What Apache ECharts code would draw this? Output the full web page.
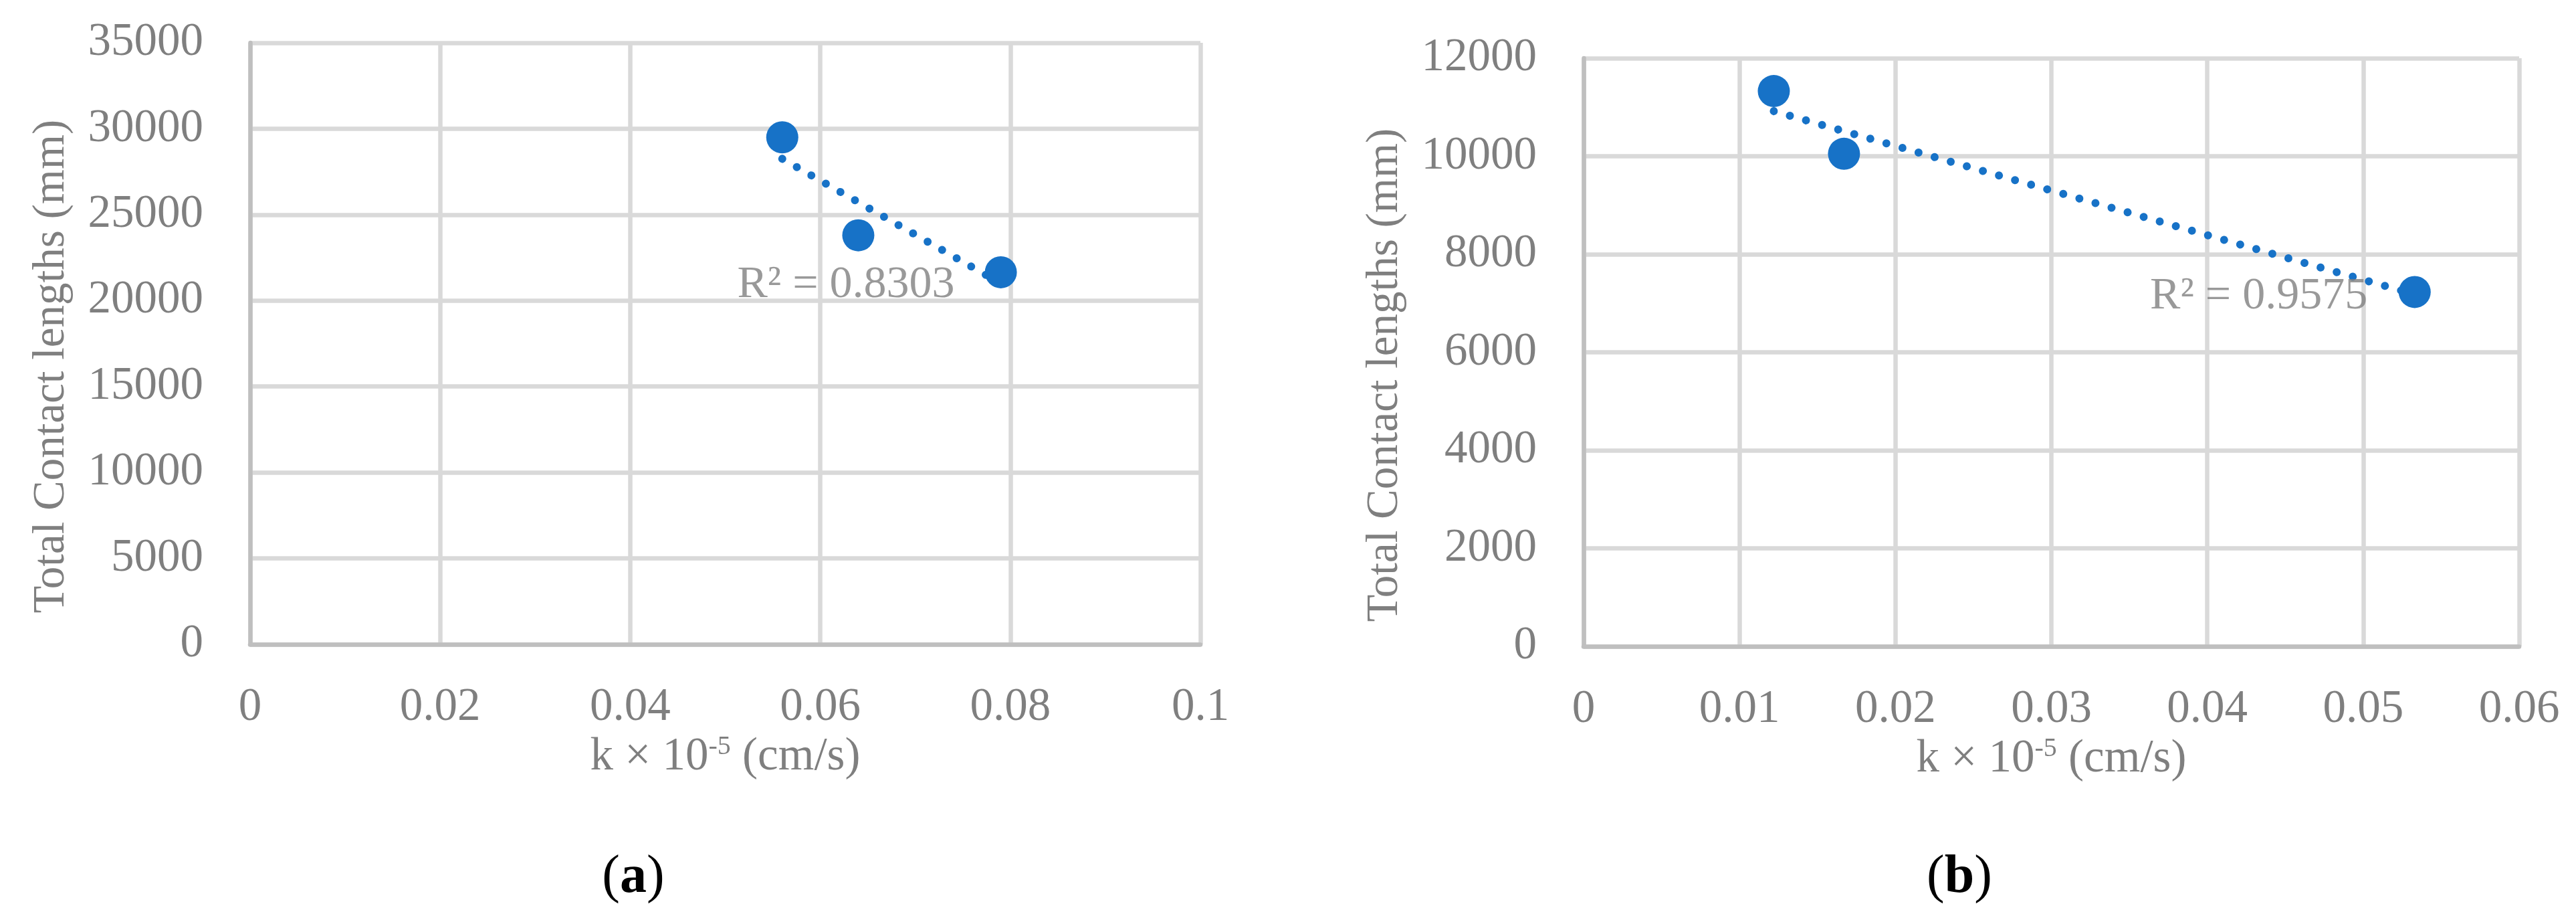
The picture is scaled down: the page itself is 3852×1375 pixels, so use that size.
<!DOCTYPE html>
<html><head><meta charset="utf-8">
<script src="https://cdn.jsdelivr.net/npm/echarts@6/dist/echarts.min.js"></script>
<style>html,body{margin:0;padding:0;background:#fff}#c{width:3852px;height:1375px}</style>
</head><body><div id="c"></div>
<script>
// ---- Chart (a) ----
const kA = [0.056, 0.064, 0.079];
const lenA = [29500, 23800, 21650];
const trendA = [[0.056, 28250], [0.079, 21000]];
const r2TextA = 'R² = 0.8303';
const r2PosA = [0.0627, 20900];
const xTicksA = [0, 0.02, 0.04, 0.06, 0.08, 0.1];
const yTicksA = [0, 5000, 10000, 15000, 20000, 25000, 30000, 35000];

// ---- Chart (b) ----
const kB = [0.0122, 0.0167, 0.0533];
const lenB = [11330, 10050, 7230];
const trendB = [[0.0122, 10920], [0.0533, 7180]];
const r2TextB = 'R² = 0.9575';
const r2PosB = [0.0433, 7140];
const xTicksB = [0, 0.01, 0.02, 0.03, 0.04, 0.05, 0.06];
const yTicksB = [0, 2000, 4000, 6000, 8000, 10000, 12000];

const xTitle = 'k × 10-5 (cm/s)';
const yTitle = 'Total Contact lengths (mm)';
const panelLabels = ['a', 'b'];

const FONT = "'Liberation Serif', 'DejaVu Serif', serif";
const GRAY = '#7f7f7f';
const BLUE = '#1772c7';
const FS = 69;

const chart = echarts.init(document.getElementById('c'));

function axisX(idx, ticks) {
  return {
    type: 'value', gridIndex: idx,
    min: ticks[0], max: ticks[ticks.length - 1], interval: ticks[1] - ticks[0],
    axisLine: {show: true, onZero: false, lineStyle: {color: '#bfbfbf', width: 6.5}},
    axisTick: {show: false},
    splitLine: {show: true, lineStyle: {color: '#d9d9d9', width: 6.5}},
    axisLabel: {color: GRAY, fontFamily: FONT, fontSize: FS, margin: 60,
      formatter: v => String(+v.toFixed(4))},
    name: '{t|k × 10}{s|-5}{t| (cm/s)}',
    nameLocation: 'middle', nameGap: 133,
    nameTextStyle: {color: GRAY, fontFamily: FONT, fontSize: FS,
      rich: {
        t: {color: GRAY, fontFamily: FONT, fontSize: FS},
        s: {color: GRAY, fontFamily: FONT, fontSize: 40, verticalAlign: 'top', lineHeight: 52}
      }}
  };
}
function axisY(idx, ticks) {
  return {
    type: 'value', gridIndex: idx,
    min: ticks[0], max: ticks[ticks.length - 1], interval: ticks[1] - ticks[0],
    axisLine: {show: true, onZero: false, lineStyle: {color: '#bfbfbf', width: 6.5}},
    axisTick: {show: false},
    splitLine: {show: true, lineStyle: {color: '#d9d9d9', width: 6.5}},
    axisLabel: {color: GRAY, fontFamily: FONT, fontSize: FS, margin: 70,
      formatter: v => String(Math.round(v))},
    name: yTitle, nameLocation: 'middle', nameRotate: 90, nameGap: 263,
    nameTextStyle: {color: GRAY, fontFamily: FONT, fontSize: 67, padding: [0, 68, 0, 0]}
  };
}
function seriesFor(idx, ks, lens, trend, r2Text, r2Pos) {
  return [
    {
      type: 'line', xAxisIndex: idx, yAxisIndex: idx, data: trend,
      symbol: 'none', silent: true, z: 2,
      lineStyle: {color: BLUE, width: 12, type: [0.01, 25], cap: 'round'}
    },
    {
      type: 'scatter', xAxisIndex: idx, yAxisIndex: idx, z: 3,
      data: ks.map((k, i) => [k, lens[i]]),
      symbol: 'circle', symbolSize: 48,
      itemStyle: {color: BLUE, opacity: 1}
    },
    {
      type: 'scatter', xAxisIndex: idx, yAxisIndex: idx, z: 4, silent: true,
      data: [r2Pos], symbolSize: 0,
      label: {show: true, position: 'inside', formatter: r2Text,
        color: GRAY, fontFamily: FONT, fontSize: 68}
    }
  ];
}

chart.setOption({
  animation: false,
  backgroundColor: '#fff',
  grid: [
    {left: 374, top: 64, width: 1421, height: 899, outerBoundsMode: 'none', containLabel: false},
    {left: 2368, top: 87, width: 1399, height: 879, outerBoundsMode: 'none', containLabel: false}
  ],
  xAxis: [axisX(0, xTicksA), axisX(1, xTicksB)],
  yAxis: [axisY(0, yTicksA), axisY(1, yTicksB)],
  series: [].concat(
    seriesFor(0, kA, lenA, trendA, r2TextA, r2PosA),
    seriesFor(1, kB, lenB, trendB, r2TextB, r2PosB)
  ),
  graphic: [
    {type: 'text', x: 947, y: 1312, style: {
      text: '{p|(}{b|' + panelLabels[0] + '}{p|)}', align: 'center', verticalAlign: 'middle',
      rich: {p: {font: '80px ' + FONT, fill: '#000'}, b: {font: 'bold 80px ' + FONT, fill: '#000'}}}},
    {type: 'text', x: 2930, y: 1312, style: {
      text: '{p|(}{b|' + panelLabels[1] + '}{p|)}', align: 'center', verticalAlign: 'middle',
      rich: {p: {font: '80px ' + FONT, fill: '#000'}, b: {font: 'bold 80px ' + FONT, fill: '#000'}}}}
  ]
});
</script></body></html>
